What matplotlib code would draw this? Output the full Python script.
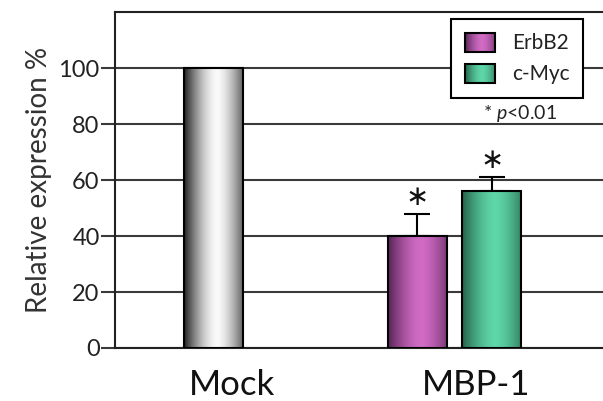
import numpy as np
import matplotlib
matplotlib.use("Agg")
import matplotlib.pyplot as plt
from matplotlib.patches import Rectangle
from matplotlib.legend_handler import HandlerBase
from matplotlib.image import BboxImage
from matplotlib.transforms import Bbox, TransformedBbox

plt.rcParams['font.family'] = ['Lato', 'DejaVu Sans']
plt.rcParams['mathtext.fontset'] = 'custom'
plt.rcParams['mathtext.it'] = 'Lato:italic'
plt.rcParams['mathtext.rm'] = 'Lato'

# data
groups = ["Mock", "MBP-1"]
series = ["ErbB2", "c-Myc"]
mock_value = 100
mbp_values = [40, 56]
mbp_err = [8, 5]
y_ticks = [0, 20, 40, 60, 80, 100]

# (edge colour, centre colour) of the cylinder-like gradient
GRAD = {
    "Mock": ((0.12, 0.12, 0.12), (0.98, 0.98, 0.98)),
    "ErbB2": ((0.33, 0.14, 0.33), (0.82, 0.42, 0.77)),
    "c-Myc": ((0.14, 0.38, 0.28), (0.37, 0.84, 0.66)),
}


def grad_row(key, n=200):
    edge, mid = np.array(GRAD[key][0]), np.array(GRAD[key][1])
    t = np.linspace(0, 1, n)
    w = 1 - np.clip(np.abs(t - 0.55) / 0.55, 0, 1) ** 1.6
    w = np.clip(w, 0, 1)
    row = edge[None, :] * (1 - w[:, None]) + mid[None, :] * w[:, None]
    return row[None, :, :]


class GradHandler(HandlerBase):
    def create_artists(self, legend, orig_handle, xdescent, ydescent,
                       width, height, fontsize, trans):
        bb = TransformedBbox(Bbox.from_bounds(-xdescent, -ydescent, width, height), trans)
        img = BboxImage(bb, interpolation="bilinear")
        img.set_data(grad_row(orig_handle.get_label()))
        rect = Rectangle((-xdescent, -ydescent), width, height, fill=False,
                         edgecolor="black", linewidth=1.5, transform=trans)
        return [img, rect]


W, H = 603, 401
fig = plt.figure(figsize=(W / 100, H / 100), dpi=100)
ax = fig.add_axes([115 / W, 53 / H, (W - 115) / W, (348 - 11.5) / H])

bar_w = 0.245
off = 0.154
xs = [0, 1 - off, 1 + off]
vals = [mock_value] + mbp_values
keys = ["Mock"] + series

for x, v, k in zip(xs, vals, keys):
    bar = ax.bar(x, v, width=bar_w, color="none", edgecolor="black",
                 linewidth=1.5, zorder=4, label=k)[0]
    im = ax.imshow(grad_row(k), extent=[x - bar_w / 2, x + bar_w / 2, 0, v],
                   aspect="auto", interpolation="bilinear", zorder=3)
    im.set_clip_path(bar)

ax.errorbar(xs[1:], mbp_values, yerr=[[0, 0], mbp_err], fmt="none",
            ecolor="black", elinewidth=1.5, capsize=9.5, capthick=1.5, zorder=2)

# significance marks
for x, v, e in zip(xs[1:], mbp_values, mbp_err):
    ax.text(x, v + e + 6, "\u2217", ha="center", va="center", fontsize=20,
            family="DejaVu Sans", color="#111111")

ax.set_xlim(-0.408, 1.615)
ax.set_ylim(0, 120.2)
ax.set_yticks(y_ticks)
ax.yaxis.grid(True, color="#3a3a3a", linewidth=1.5, zorder=0)
ax.set_axisbelow(True)
ax.tick_params(axis="y", length=10, width=1.5, color="#3a3a3a",
               labelsize=17, pad=1, labelcolor="#222222")
ax.set_xticks([0.077, 1.088])
ax.set_xticklabels(groups, fontsize=25, color="#111111")
ax.tick_params(axis="x", length=0, pad=15)
ax.set_ylabel("Relative expression %", fontsize=20, color="#333333", labelpad=5)

for s in ["left", "top", "bottom"]:
    ax.spines[s].set_linewidth(1.5)
    ax.spines[s].set_color("#222222")
ax.spines["right"].set_visible(False)

handles = [Rectangle((0, 0), 1, 1, label=s) for s in series]
leg = ax.legend(handles=handles, labels=series, loc="upper right",
                bbox_to_anchor=(583 / W, 1 - 19 / H), bbox_transform=fig.transFigure,
                borderaxespad=0, fontsize=15, handlelength=1.45, handleheight=1.05,
                labelspacing=0.5, handletextpad=0.8, borderpad=0.65,
                fancybox=False, framealpha=1, edgecolor="black",
                handler_map={Rectangle: GradHandler()})
leg.get_frame().set_linewidth(1.5)
leg.set_zorder(6)
for t in leg.get_texts():
    t.set_color("#222222")

fig.text(520 / W, 1 - 113 / H, r"* $\it{p}$<0.01", ha="center", va="center",
         fontsize=14, color="#222222")

fig.savefig("out.png", dpi=100)
